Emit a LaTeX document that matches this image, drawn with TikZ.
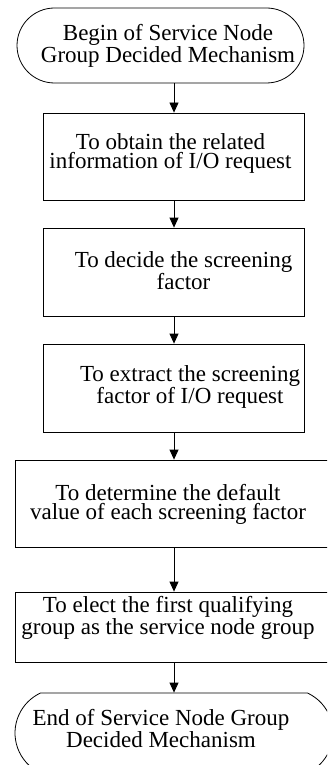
\documentclass[tikz,border=0pt]{standalone}
\usepackage{fontspec}
\setmainfont{Liberation Serif}
\usetikzlibrary{arrows.meta,shapes.misc}

\tikzset{
  every picture/.style={x=1pt,y=-1pt},
  outline/.style={draw=black, line width=0.8pt, inner sep=0pt},
  procbox/.style={outline, rectangle},
  termbox/.style={outline, rounded rectangle},
  txt/.style={align=center, inner sep=0pt, font=\fontsize{23}{18.5}\selectfont},
  flow/.style={draw=black, line width=0.8pt, -{Triangle[length=10pt,width=9pt]}}
}

\begin{document}
\begin{tikzpicture}
  \clip (0,0) rectangle (327,765);

  % start and end terminals
  \node[termbox, rounded rectangle arc length=180, minimum width=287pt, minimum height=75pt,
        label={[txt, xshift=7.5pt, yshift=0pt]center:Begin of Service Node\\Group Decided Mechanism}]
        (start) at (160.5,45.5) {};

  % process steps
  \node[procbox, minimum width=261pt, minimum height=87pt,
        label={[txt, xshift=-3.5pt, yshift=3pt]center:To obtain the related\\information of I/O request}]
        (s1) at (174,156.5) {};
  \node[procbox, minimum width=261pt, minimum height=88pt,
        label={[txt, xshift=9.5pt, yshift=1pt]center:To decide the screening\\factor}]
        (s2) at (174,272) {};
  \node[procbox, minimum width=261pt, minimum height=88pt,
        label={[txt, xshift=16pt, yshift=1pt]center:To extract the screening\\factor of I/O request}]
        (s3) at (174,388) {};
  \node[procbox, minimum width=318pt, minimum height=87pt,
        label={[txt, xshift=-6pt, yshift=-1pt]center:To determine the default\\value of each screening factor}]
        (s4) at (174,503.5) {};
  \node[procbox, minimum width=318pt, minimum height=70pt,
        label={[txt, xshift=-6pt, yshift=9.5pt]center:To elect the first qualifying\\group as the service node group}]
        (s5) at (174,627) {};

  \node[termbox, rounded rectangle arc length=130, minimum width=318pt, minimum height=80pt,
        label={[txt, xshift=-13pt, yshift=4.5pt]center:End of Service Node Group\\Decided Mechanism}]
        (stop) at (174,733) {};

  % connectors
  \draw[flow] (start.south -| s1.north) -- (s1.north);
  \draw[flow] (s1.south) -- (s2.north);
  \draw[flow] (s2.south) -- (s3.north);
  \draw[flow] (s3.south) -- (s4.north);
  \draw[flow] (s4.south) -- (s5.north);
  \draw[flow] (s5.south) -- (stop.north);
\end{tikzpicture}
\end{document}
